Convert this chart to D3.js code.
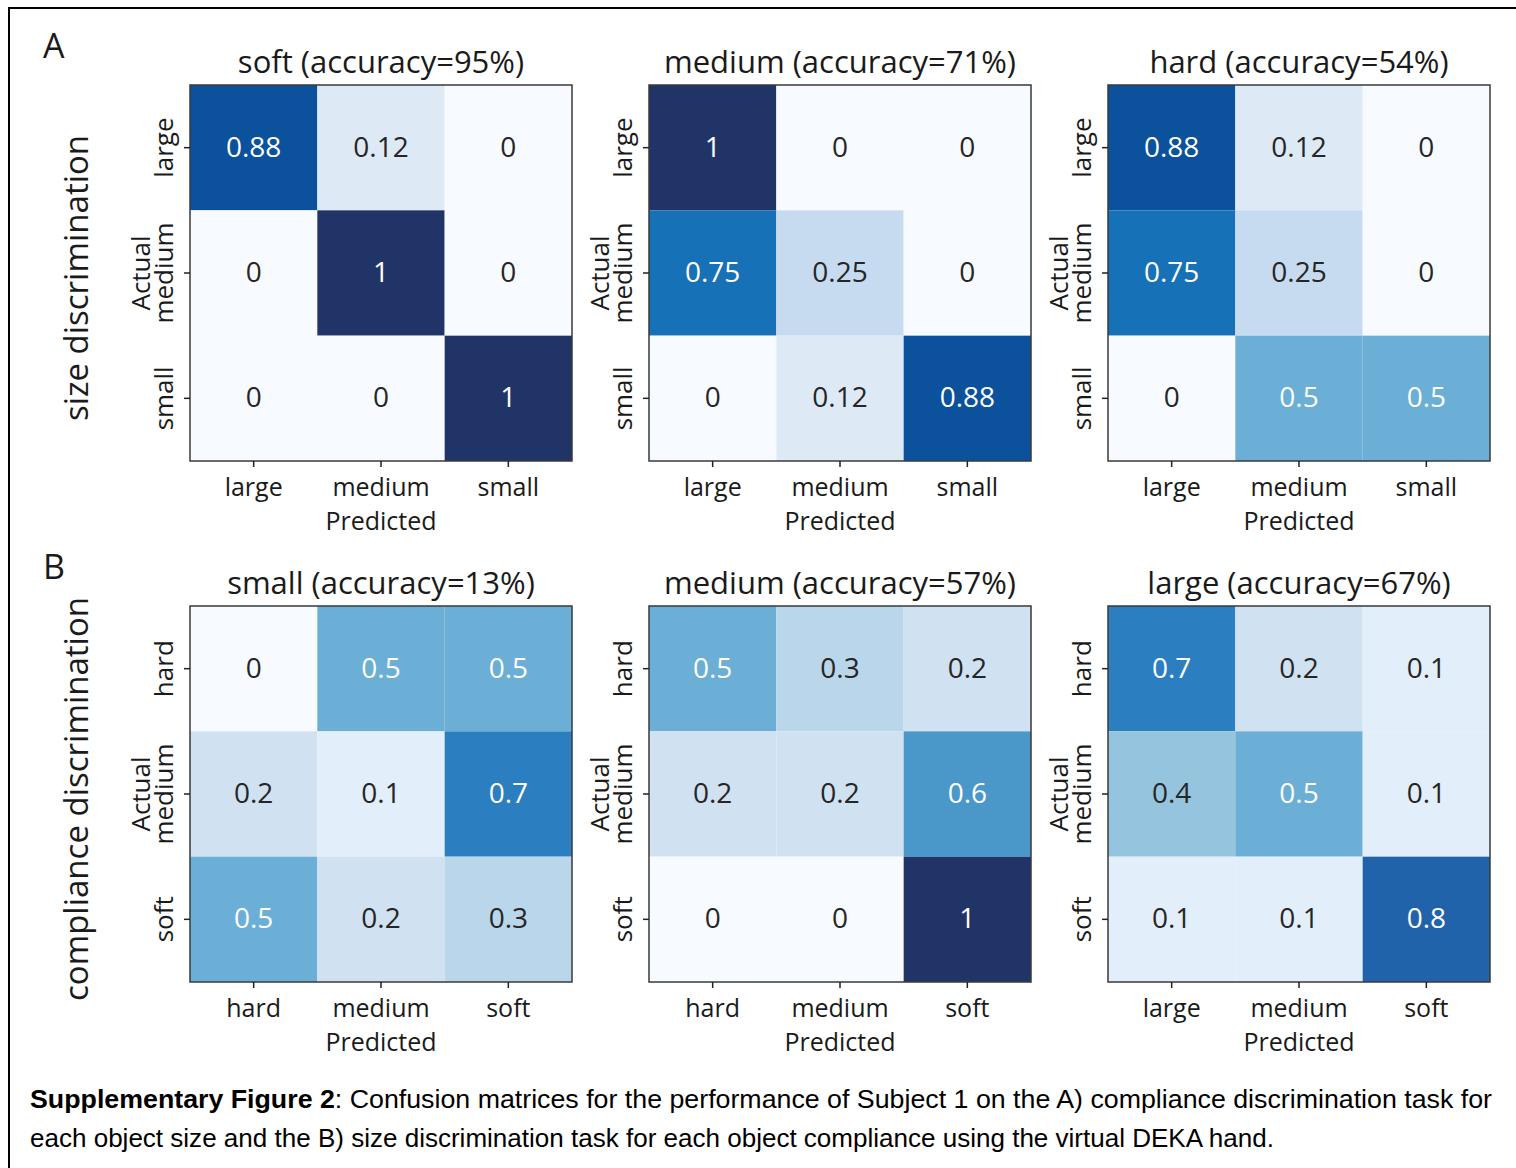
<!DOCTYPE html>
<html>
<head>
<meta charset="utf-8">
<script src="https://cdn.jsdelivr.net/npm/d3@7"></script>
<style>
  html, body { margin: 0; padding: 0; background: #fff; }
  svg { display: block; }
  text { font-family: "Open Sans", "Noto Sans", sans-serif; fill: #1a1a1a; }
</style>
</head>
<body>
<svg id="fig" width="1516" height="1168"></svg>
<script>
// ---- data ----
const sizeClasses = ["large", "medium", "small"];
const complianceClasses = ["hard", "medium", "soft"];
const largePredicted = ["large", "medium", "soft"];

const titlesA = ["soft (accuracy=95%)", "medium (accuracy=71%)", "hard (accuracy=54%)"];
const titlesB = ["small (accuracy=13%)", "medium (accuracy=57%)", "large (accuracy=67%)"];

const softSizeMatrix   = [[0.88, 0.12, 0], [0, 1, 0], [0, 0, 1]];
const mediumSizeMatrix = [[1, 0, 0], [0.75, 0.25, 0], [0, 0.12, 0.88]];
const hardSizeMatrix   = [[0.88, 0.12, 0], [0.75, 0.25, 0], [0, 0.5, 0.5]];

const smallComplianceMatrix  = [[0, 0.5, 0.5], [0.2, 0.1, 0.7], [0.5, 0.2, 0.3]];
const mediumComplianceMatrix = [[0.5, 0.3, 0.2], [0.2, 0.2, 0.6], [0, 0, 1]];
const largeComplianceMatrix  = [[0.7, 0.2, 0.1], [0.4, 0.5, 0.1], [0.1, 0.1, 0.8]];

const rowLabels = ["size discrimination", "compliance discrimination"];
const panelLetters = ["A", "B"];

const captionBold = "Supplementary Figure 2";
const captionLine1 = ": Confusion matrices for the performance of Subject 1 on the A) compliance discrimination task for";
const captionLine2 = "each object size and the B) size discrimination task for each object compliance using the virtual DEKA hand.";

// ---- panels ----
const panels = [
  { row: 0, col: 0, title: titlesA[0], values: softSizeMatrix,   actual: sizeClasses, predicted: sizeClasses },
  { row: 0, col: 1, title: titlesA[1], values: mediumSizeMatrix, actual: sizeClasses, predicted: sizeClasses },
  { row: 0, col: 2, title: titlesA[2], values: hardSizeMatrix,   actual: sizeClasses, predicted: sizeClasses },
  { row: 1, col: 0, title: titlesB[0], values: smallComplianceMatrix,  actual: complianceClasses, predicted: complianceClasses },
  { row: 1, col: 1, title: titlesB[1], values: mediumComplianceMatrix, actual: complianceClasses, predicted: complianceClasses },
  { row: 1, col: 2, title: titlesB[2], values: largeComplianceMatrix,  actual: complianceClasses, predicted: largePredicted }
];

// ---- layout ----
const colLeft = [190, 649, 1108];
const rowTop = [85, 606];
const matW = 382, matH = 376;

// Blues-like ramp ending in a deep navy
const color = d3.scaleLinear()
  .domain([0, 0.1, 0.12, 0.2, 0.25, 0.3, 0.4, 0.5, 0.6, 0.7, 0.75, 0.8, 0.88, 1])
  .range(["#f7fbff", "#e2eef9", "#ddeaf6", "#d0e1f2", "#c6dbef", "#b9d6eb", "#95c4df",
          "#6baed6", "#4a98ca", "#2b7ec0", "#1771b6", "#2163aa", "#0b519b", "#213467"])
  .interpolate(d3.interpolateRgb)
  .clamp(true);

const svg = d3.select("#fig");

// outer frame
svg.append("path")
  .attr("d", "M9,1170 L9,8 L1520,8")
  .attr("fill", "none")
  .attr("stroke", "#000")
  .attr("stroke-width", 2);

panels.forEach(p => {
  const x0 = colLeft[p.col], y0 = rowTop[p.row];
  const g = svg.append("g").attr("transform", `translate(${x0},${y0})`);
  const idx = [0, 1, 2];
  const x = d3.scaleBand().domain(idx).range([0, matW]);
  const y = d3.scaleBand().domain(idx).range([0, matH]);

  const cells = p.values.flatMap((row, r) => row.map((v, c) => ({ r, c, v })));

  g.selectAll("rect.cell").data(cells).join("rect")
    .attr("class", "cell")
    .attr("x", d => x(d.c))
    .attr("y", d => y(d.r))
    .attr("width", x.bandwidth())
    .attr("height", y.bandwidth())
    .attr("fill", d => color(d.v));

  g.selectAll("text.val").data(cells).join("text")
    .attr("class", "val")
    .attr("x", d => x(d.c) + x.bandwidth() / 2)
    .attr("y", d => y(d.r) + y.bandwidth() / 2 - 2)
    .attr("text-anchor", "middle")
    .attr("dominant-baseline", "central")
    .style("font-size", "28px")
    .style("fill", d => d.v >= 0.5 ? "#ffffff" : "#262626")
    .text(d => String(d.v));

  // frame
  g.append("rect")
    .attr("width", matW).attr("height", matH)
    .attr("fill", "none").attr("stroke", "#3a3a3a").attr("stroke-width", 1.5);

  // x axis
  const xAxis = g.append("g").attr("transform", `translate(0,${matH})`)
    .call(d3.axisBottom(x).tickSize(6).tickFormat(i => p.predicted[i]));
  xAxis.select(".domain").remove();
  xAxis.selectAll(".tick line").attr("stroke", "#222").attr("stroke-width", 1.5);
  xAxis.selectAll(".tick text")
    .attr("fill", "#1a1a1a")
    .style("font-size", "25px")
    .style("font-family", "'Open Sans', sans-serif")
    .attr("y", 35).attr("dy", null);

  g.append("text")
    .attr("x", matW / 2).attr("y", matH + 69)
    .attr("text-anchor", "middle")
    .style("font-size", "25px")
    .text("Predicted");

  // y axis
  const yAxis = g.append("g")
    .call(d3.axisLeft(y).tickSize(6).tickFormat(i => p.actual[i]));
  yAxis.select(".domain").remove();
  yAxis.selectAll(".tick line").attr("stroke", "#222").attr("stroke-width", 1.5);
  yAxis.selectAll(".tick text")
    .attr("fill", "#1a1a1a")
    .style("font-size", "26px")
    .style("font-family", "'Open Sans', sans-serif")
    .attr("x", null).attr("dy", null)
    .attr("text-anchor", "middle")
    .attr("transform", "translate(-17,0) rotate(-90)");

  g.append("text")
    .attr("transform", `translate(-40,${matH / 2}) rotate(-90)`)
    .attr("text-anchor", "middle")
    .style("font-size", "26px")
    .text("Actual");

  // title
  g.append("text")
    .attr("x", matW / 2).attr("y", -12)
    .attr("text-anchor", "middle")
    .style("font-size", "31px")
    .text(p.title);
});

// row labels and panel letters
rowLabels.forEach((lab, i) => {
  svg.append("text")
    .attr("transform", `translate(88,${rowTop[i] + matH / 2 + 5}) rotate(-90)`)
    .attr("text-anchor", "middle")
    .style("font-size", "33px")
    .text(lab);
  svg.append("text")
    .attr("x", 43).attr("y", rowTop[i] - 27)
    .style("font-size", "34px")
    .text(panelLetters[i]);
});

// caption
const cap1 = svg.append("text")
  .attr("x", 30).attr("y", 1108)
  .attr("textLength", 1462).attr("lengthAdjust", "spacingAndGlyphs")
  .style("font-family", "'Liberation Sans Narrow', 'Liberation Sans', sans-serif")
  .style("font-size", "25px").style("fill", "#000");
cap1.append("tspan").style("font-weight", "bold").text(captionBold);
cap1.append("tspan").text(captionLine1);

svg.append("text")
  .attr("x", 30).attr("y", 1147)
  .attr("textLength", 1244).attr("lengthAdjust", "spacingAndGlyphs")
  .style("font-family", "'Liberation Sans Narrow', 'Liberation Sans', sans-serif")
  .style("font-size", "25px").style("fill", "#000")
  .text(captionLine2);
</script>
</body>
</html>
